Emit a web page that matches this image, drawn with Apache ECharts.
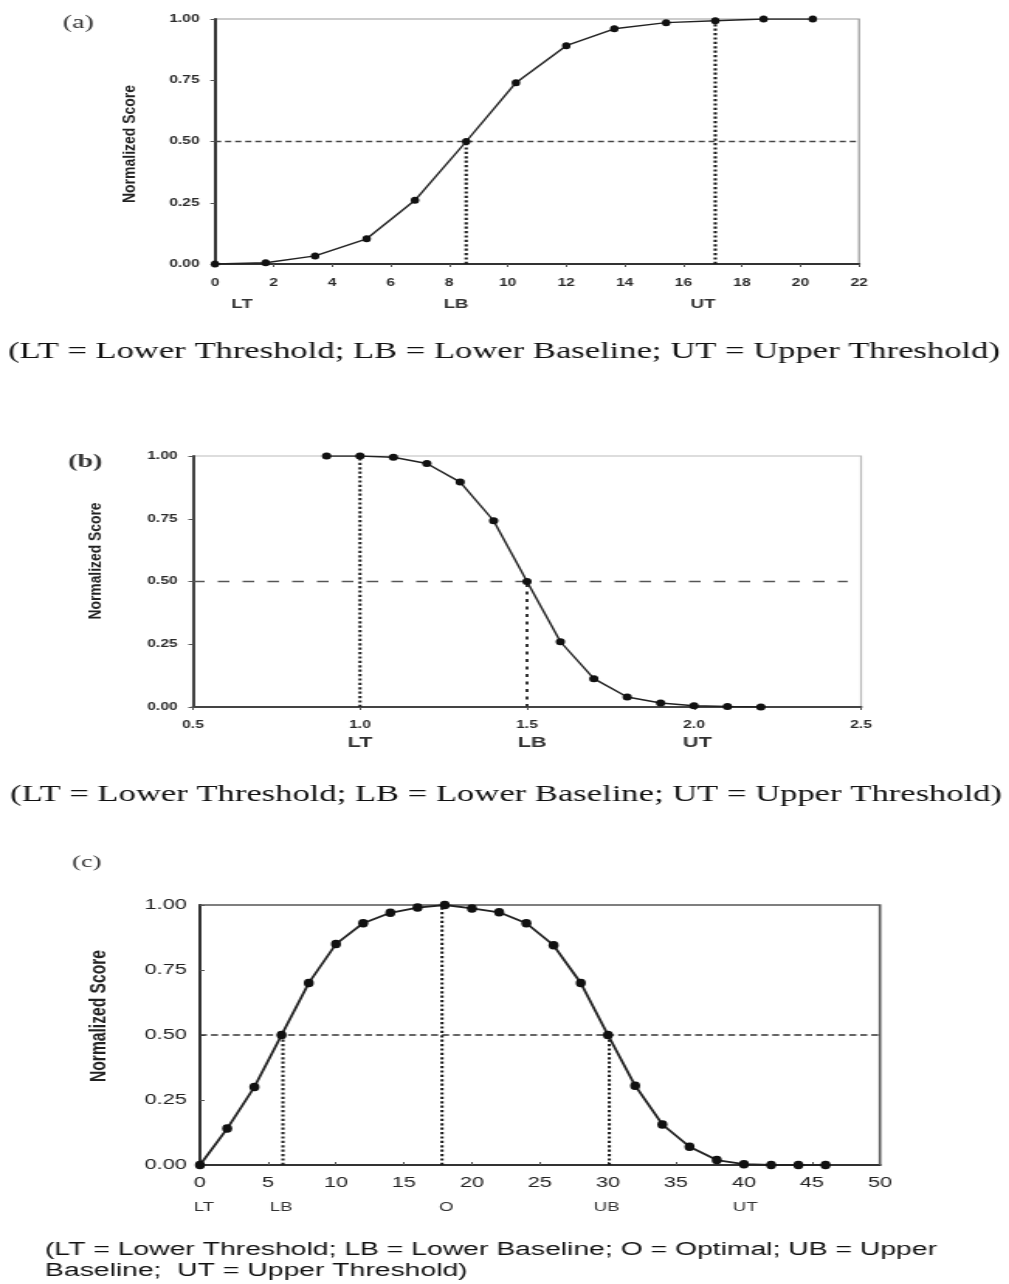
<!DOCTYPE html>
<html><head><meta charset="utf-8">
<script src="https://cdn.jsdelivr.net/npm/echarts/dist/echarts.min.js"></script>
<style>
html,body{margin:0;padding:0;background:#fff;overflow:hidden;}
#wrap{width:1009px;height:1284px;overflow:hidden;position:relative;}
#chart{width:651px;height:1284px;transform:scaleX(1.55);transform-origin:0 0;}
</style></head><body><div id="wrap"><div id="chart"></div></div>
<script>
// ---------- data ----------
const aX = [0, 1.73, 3.42, 5.18, 6.83, 8.58, 10.28, 12.0, 13.64, 15.41, 17.09, 18.74, 20.42];
const aY = [0, 0.005, 0.033, 0.103, 0.26, 0.5, 0.74, 0.891, 0.96, 0.985, 0.993, 1.0, 1.0];
const bX = [0.9, 1.0, 1.1, 1.2, 1.3, 1.4, 1.5, 1.6, 1.7, 1.8, 1.9, 2.0, 2.1, 2.2];
const bY = [1.0, 1.0, 0.995, 0.97, 0.896, 0.742, 0.5, 0.26, 0.113, 0.04, 0.016, 0.005, 0.002, 0.0];
const cX = [0, 2, 4, 6, 8, 10, 12, 14, 16, 18, 20, 22, 24, 26, 28, 30, 32, 34, 36, 38, 40, 42, 44, 46];
const cY = [0, 0.14, 0.30, 0.5, 0.70, 0.85, 0.93, 0.97, 0.99, 1.0, 0.987, 0.972, 0.93, 0.845, 0.70, 0.5, 0.305, 0.156, 0.07, 0.019, 0.003, 0, 0, 0];

const halfScore = 0.5;
const aHLine = [0, 22];
const aVLines = [[8.58, 0.5], [17.09, 0.993]];
const bHLine = [0.5, 2.46];
const bVLines = [[1.0, 1.0], [1.5, 0.5]];
const cHLine = [0, 50];
const cVLines = [[6.1, 0.5], [17.8, 1.0], [30.1, 0.5]];

const aMarks = ['LT', 'LB', 'UT'];
const aMarkX = [0.92, 8.23, 16.67];
const bMarks = ['LT', 'LB', 'UT'];
const bMarkX = [1.0, 1.515, 2.01];
const cMarks = ['LT', 'LB', 'O', 'UB', 'UT'];
const cMarkX = [0.3, 5.96, 18.1, 29.9, 40.1];

const panelNames = ['(a)', '(b)', '(c)'];
const yName = 'Normalized Score';
const captionAB = '(LT = Lower Threshold; LB = Lower Baseline; UT = Upper Threshold)';
const captionC1 = '(LT = Lower Threshold; LB = Lower Baseline; O = Optimal; UB = Upper';
const captionC2 = 'Baseline;  UT = Upper Threshold)';

// ---------- helpers ----------
const S = 1.55; // horizontal stretch of the reference
const pairs = (xs, ys) => xs.map((x, i) => [x, ys[i]]);
const mctx = document.createElement('canvas').getContext('2d');
function tw(text, font) { mctx.font = font; return mctx.measureText(text).width; }

const chart = echarts.init(document.getElementById('chart'), null, {renderer: 'canvas'});

const boldSmall = {fontFamily: 'Liberation Sans', fontWeight: 'bold', fontSize: 10, color: '#2a2a2a'};
const plainC = {fontFamily: 'Liberation Sans', fontSize: 14, color: '#222'};

function yAxisCfg(gi, label, margin, lineColor, inside) {
  return {
    type: 'value', gridIndex: gi, min: 0, max: 1, interval: 0.25,
    axisLine: {show: true, lineStyle: {color: lineColor, width: 2}},
    axisTick: {show: true, inside: !!inside, length: 3, lineStyle: {color: '#555', width: 1}},
    splitLine: {show: false},
    axisLabel: Object.assign({margin: margin, formatter: v => v.toFixed(2), showMinLabel: true, showMaxLabel: true}, label)
  };
}
function xAxisCfg(gi, min, max, interval, label, margin, fmt, lineColor, inside) {
  return {
    type: 'value', gridIndex: gi, min: min, max: max, interval: interval,
    axisLine: {show: true, onZero: false, lineStyle: {color: lineColor, width: 2}},
    axisTick: {show: true, inside: !!inside, length: 3, lineStyle: {color: '#555', width: 1}},
    splitLine: {show: false},
    axisLabel: Object.assign({margin: margin, formatter: fmt, showMinLabel: true, showMaxLabel: true}, label)
  };
}

function refSeries(gi, data, color, dash, width) {
  return {
    type: 'line', xAxisIndex: gi, yAxisIndex: gi, data: data, symbol: 'none', silent: true,
    lineStyle: {color: color, width: width, type: dash}, z: 1, animation: false
  };
}
function dataSeries(gi, data, size, width) {
  return {
    type: 'line', xAxisIndex: gi, yAxisIndex: gi, data: data, symbol: 'circle', symbolSize: size,
    itemStyle: {color: '#111'}, lineStyle: {color: '#222', width: width}, z: 5, animation: false, silent: true
  };
}

const series = [];
// panel a
series.push(refSeries(0, aHLine.map(x => [x, halfScore]), '#444', [4, 2.5], 1.3));
aVLines.forEach(v => series.push(refSeries(0, [[v[0], 0], [v[0], v[1]]], '#1a1a1a', [2.2, 2.2], 2.1)));
series.push(dataSeries(0, pairs(aX, aY), [5.5, 7], 1.4));
// panel b
series.push(refSeries(1, bHLine.map(x => [x, halfScore]), '#555', [7.5, 8.5], 1.5));
series.push(refSeries(1, [[bVLines[0][0], 0], [bVLines[0][0], bVLines[0][1]]], '#222', [2.2, 2.2], 2));
series.push(refSeries(1, [[bVLines[1][0], 0], [bVLines[1][0], bVLines[1][1]]], '#333', [3, 4.5], 2));
series.push(dataSeries(1, pairs(bX, bY), [6, 7], 1.4));
// panel c
series.push(refSeries(2, cHLine.map(x => [x, halfScore]), '#333', [4.5, 2.6], 1.3));
cVLines.forEach(v => series.push(refSeries(2, [[v[0], 0], [v[0], v[1]]], '#1a1a1a', [2.2, 2.2], 2)));
series.push(dataSeries(2, pairs(cX, cY), [6.5, 8.5], 1.8));

const option = {
  animation: false,
  backgroundColor: '#fff',
  grid: [
    {left: 138.7, top: 19, width: 415.5, height: 245, show: true, borderColor: '#999', borderWidth: 1.2},
    {left: 124.5, top: 456, width: 431, height: 251, show: true, borderColor: '#bbb', borderWidth: 1.2},
    {left: 129, top: 905, width: 438.7, height: 260, show: true, borderColor: '#555', borderWidth: 1.6}
  ],
  xAxis: [
    xAxisCfg(0, 0, 22, 2, boldSmall, 14, v => String(v), '#333'),
    xAxisCfg(1, 0.5, 2.5, 0.5, boldSmall, 13, v => v.toFixed(1), '#444'),
    xAxisCfg(2, 0, 50, 5, plainC, 11, v => String(v), '#333', true)
  ],
  yAxis: [
    yAxisCfg(0, boldSmall, 10, '#333'),
    yAxisCfg(1, boldSmall, 10, '#444'),
    yAxisCfg(2, plainC, 8.5, '#333', true)
  ],
  series: series
};
chart.setOption(option);

// ---------- texts ----------
const g = [];
function addText(text, x, y, font, fill, align, opts) {
  const el = Object.assign({
    type: 'text', x: x, y: y, silent: true,
    style: {text: text, font: font, fill: fill, textAlign: align || 'left', textVerticalAlign: 'middle'}
  }, opts || {});
  g.push(el);
}
// panel letters
addText(panelNames[0], 40.6, 23, '18px "Liberation Serif"', '#333');
addText(panelNames[1], 43.9, 462, 'bold 18px "Liberation Serif"', '#333');
addText(panelNames[2], 46.5, 863, '17px "Liberation Serif"', '#333');

// y axis names (rotated)
function yNameText(cx, cy, font, len) {
  const k = len / tw(yName, font);
  addText(yName, cx, cy, font, '#222', 'center', {rotation: Math.PI / 2, scaleX: k});
}
yNameText(84, 144, 'bold 10px "Liberation Sans"', 118);
yNameText(62.6, 561, 'bold 10px "Liberation Sans"', 117);
yNameText(64.5, 1016, 'bold 14px "Liberation Sans"', 132);

// sub labels under axes
function subLabels(ai, names, xs, y, font, fill) {
  names.forEach((n, i) => {
    const px = chart.convertToPixel({xAxisIndex: ai}, xs[i]);
    addText(n, px, y, font, fill, 'center');
  });
}
subLabels(0, aMarks, aMarkX, 305, 'bold 12px "Liberation Sans"', '#333');
subLabels(1, bMarks, bMarkX, 743, 'bold 14px "Liberation Sans"', '#333');
subLabels(2, cMarks, cMarkX, 1208, '12px "Liberation Sans"', '#333');

// captions
function caption(text, x, y, font, width, scaleOverride) {
  const k = scaleOverride || width / tw(text, font);
  addText(text, x, y, font, '#111', 'left', {scaleX: k});
  return k;
}
caption(captionAB, 8 / S, 352, '24px "Liberation Serif"', 992 / S);
caption(captionAB, 10 / S, 795, '24px "Liberation Serif"', 992 / S);
const kc = caption(captionC1, 45 / S, 1250, '18px "Liberation Sans"', 892 / S);
caption(captionC2, 45 / S, 1271, '18px "Liberation Sans"', 0, kc);

chart.setOption({graphic: {elements: g}});
</script>
</body></html>
